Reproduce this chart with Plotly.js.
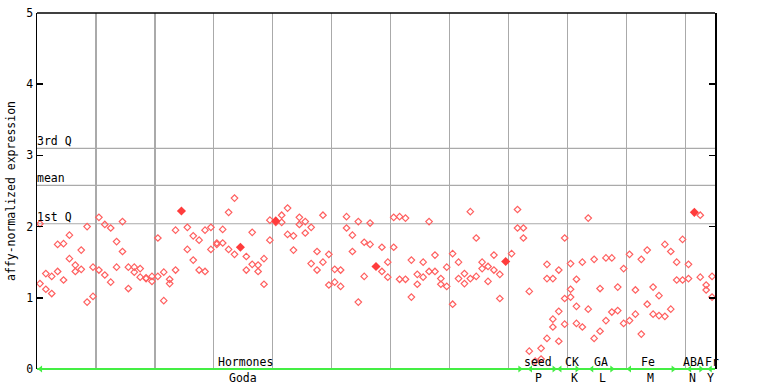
<!DOCTYPE html>
<html>
<head>
<meta charset="utf-8">
<script src="https://cdn.plot.ly/plotly-3.0.1.min.js"></script>
<style>html,body{margin:0;padding:0;background:#fff;}#chart{width:768px;height:384px;}</style>
</head>
<body>
<div id="chart"></div>
<script>
// replicate values per sample position (null = no point)
const rep1 = [2.04,1.34,1.30,1.75,1.76,1.88,1.46,1.67,2.00,1.43,
  2.13,2.03,1.98,1.79,2.07,1.43,1.43,1.41,1.27,1.30,
  1.84,1.36,1.26,1.95,null,1.99,1.87,1.81,1.95,1.99,
  1.77,1.96,2.20,2.40,null,1.58,1.92,1.46,1.55,2.09,
  2.06,2.16,2.26,1.87,2.13,2.07,1.99,1.65,2.16,1.61,
  1.40,1.39,2.14,1.88,2.07,1.78,2.05,null,1.71,1.50,
  2.13,2.14,2.12,1.53,1.33,1.50,2.07,1.60,1.27,1.43,
  1.62,1.50,1.34,2.21,1.84,1.50,1.44,1.60,1.33,null,
  1.62,2.24,1.98,1.09,0.11,0.29,1.47,1.27,1.39,1.84,
  1.48,1.26,1.50,2.12,1.54,1.13,1.56,1.56,1.15,1.41,
  1.61,1.11,1.54,1.67,1.15,1.03,1.75,1.65,1.50,1.82,
  1.47,null,2.16,1.18,1.30];
const rep2 = [1.20,1.12,1.06,1.37,1.25,1.55,1.37,1.40,0.94,1.02,
  1.39,1.32,1.22,1.43,1.65,1.13,1.36,1.29,1.28,1.23,
  1.30,0.96,1.20,1.39,null,1.68,1.53,1.39,1.37,1.68,
  1.75,1.77,1.68,1.61,null,1.39,1.47,1.37,1.19,1.81,
  null,2.06,1.89,1.67,2.03,1.91,1.48,1.39,1.50,1.18,
  1.22,1.16,1.98,1.65,0.94,1.30,1.75,null,1.37,1.29,
  1.71,1.26,1.26,1.01,1.19,1.29,1.37,1.37,1.19,1.16,
  0.91,1.27,1.20,1.27,1.30,1.41,1.23,1.39,0.99,null,
  null,1.98,1.84,0.25,null,0.14,1.27,0.70,0.81,0.99,
  1.12,0.88,0.59,0.84,0.43,0.53,0.68,0.80,0.82,0.64,
  0.68,0.77,0.49,0.91,0.77,0.75,0.74,0.84,1.25,1.25,
  1.27,null,1.29,1.11,1.01];
const rep3 = [null,null,null,null,null,null,null,null,null,null,
  null,null,null,null,null,null,null,null,null,null,
  null,null,null,null,null,null,null,null,null,null,
  null,null,null,null,null,null,null,null,null,null,
  null,null,null,null,null,null,null,null,null,null,
  null,null,null,null,null,null,null,null,null,null,
  null,null,null,null,null,null,null,null,null,null,
  null,null,null,null,null,null,null,null,null,null,
  null,null,null,null,null,null,0.43,0.59,0.39,0.63,
  1.01,0.64,null,null,null,null,null,null,null,null,
  null,null,null,null,null,null,null,null,null,null,
  null,null,null,null,null];
// highlighted (filled) samples
const hiIdx = [24,34,40,57,79,111];
const hiVal = [2.22,1.71,2.08,1.44,1.51,2.20];

// reference lines
const refVals = [2.04,2.58,3.10];
const refLabels = ['1st Q','mean','3rd Q'];

// group labels (centre positions in sample units)
const groupTop = ['Hormones','seed','CK','GA','Fe','ABA','Fr'];
const groupBottom = ['Goda','P','K','L','M','N','Y'];
const groupTopPos = [34.8,84.4,90.2,95.2,103.1,110.8,114.0];
const groupBotPos = [34.4,84.5,90.6,95.5,103.5,110.6,113.7];
// green group arrows (start / end in sample units)
const grpStart = [-0.5,82.6,87.6,93.0,99.4,109.6,113.1];
const grpEnd = [81.4,87.2,91.1,97.0,107.4,112.1,114.5];

const idx = rep1.map((_, i) => i);
const MONO = 'DejaVu Sans Mono, monospace';
const RED = '#ff5f5f';
const GREEN = '#44ee44';

const openMarker = {symbol:'diamond-open', size:5, color:RED, line:{width:1.2, color:RED}};
const traces = [
  {x: idx, y: rep1, mode:'markers', type:'scatter', marker: openMarker, hoverinfo:'skip'},
  {x: idx, y: rep2, mode:'markers', type:'scatter', marker: openMarker, hoverinfo:'skip'},
  {x: idx, y: rep3, mode:'markers', type:'scatter', marker: openMarker, hoverinfo:'skip'},
  {x: hiIdx, y: hiVal, mode:'markers', type:'scatter',
   marker:{symbol:'diamond', size:7, color:'#ff3c3c', line:{width:0}}, hoverinfo:'skip'},
  {x: grpEnd.slice(0,6), y: grpEnd.slice(0,6).map(() => 0), mode:'markers', type:'scatter', cliponaxis:false,
   marker:{symbol:'triangle-right', size:6, color:GREEN}, hoverinfo:'skip'},
  {x: grpStart.map(v => v + 0.6), y: grpStart.map(() => 0), mode:'markers', type:'scatter', cliponaxis:false,
   marker:{symbol:'triangle-left', size:6, color:GREEN}, hoverinfo:'skip'}
];

const shapes = refVals.map(v => ({type:'line', xref:'paper', x0:0, x1:1, yref:'y', y0:v, y1:v,
  line:{color:'#aaaaaa', width:1.2}, layer:'below'}));
// frame: top and right black, bottom green
shapes.push({type:'line', xref:'paper', x0:0, x1:1, yref:'paper', y0:1, y1:1, line:{color:'#000', width:1.5}});
shapes.push({type:'line', xref:'paper', x0:0, x1:1, yref:'paper', y0:0, y1:0, line:{color:'#000', width:1}});
shapes.push({type:'line', xref:'paper', x0:0, x1:1, yref:'paper', y0:0, y1:0, line:{color:GREEN, width:2}});

const annotations = [];
refVals.forEach((v, i) => annotations.push({xref:'paper', x:0, xanchor:'left', yref:'y', y:v, yanchor:'bottom',
  text: refLabels[i], showarrow:false, font:{family:MONO, size:11.5, color:'#000'}, yshift:-2, xshift:-2}));
groupTop.forEach((t, i) => annotations.push({xref:'x', x:groupTopPos[i], yref:'paper', y:0, yanchor:'bottom',
  text:t, showarrow:false, font:{family:MONO, size:11.5, color:'#000'}, yshift:-2}));
groupBottom.forEach((t, i) => annotations.push({xref:'x', x:groupBotPos[i], yref:'paper', y:0, yanchor:'top',
  text:t, showarrow:false, font:{family:MONO, size:11.5, color:'#000'}, yshift:0}));

const layout = {
  width:768, height:384,
  margin:{l:37, r:53, t:13, b:15, pad:0},
  paper_bgcolor:'#fff', plot_bgcolor:'#fff',
  showlegend:false,
  font:{family:MONO, size:11.5, color:'#000'},
  xaxis:{range:[-0.5,114.5], showticklabels:false, ticks:'', showgrid:true, gridcolor:'#aaaaaa', gridwidth:1.2,
    tick0:-0.5, dtick:10, zeroline:false, showline:false, fixedrange:true},
  yaxis:{range:[0,5], tickvals:[0,1,2,3,4,5], ticks:'inside', ticklen:6, tickcolor:'#000', tickwidth:1.5,
    showgrid:false, zeroline:false, showline:true, linecolor:'#000', linewidth:1.5, mirror:'ticks',
    tickfont:{family:MONO, size:11.5, color:'#000'},
    title:{text:'affy-normalized expression', font:{family:MONO, size:11.5, color:'#000'}, standoff:8}},
  shapes: shapes,
  annotations: annotations
};

Plotly.newPlot('chart', traces, layout, {staticPlot:true, displayModeBar:false});
</script>
</body>
</html>
